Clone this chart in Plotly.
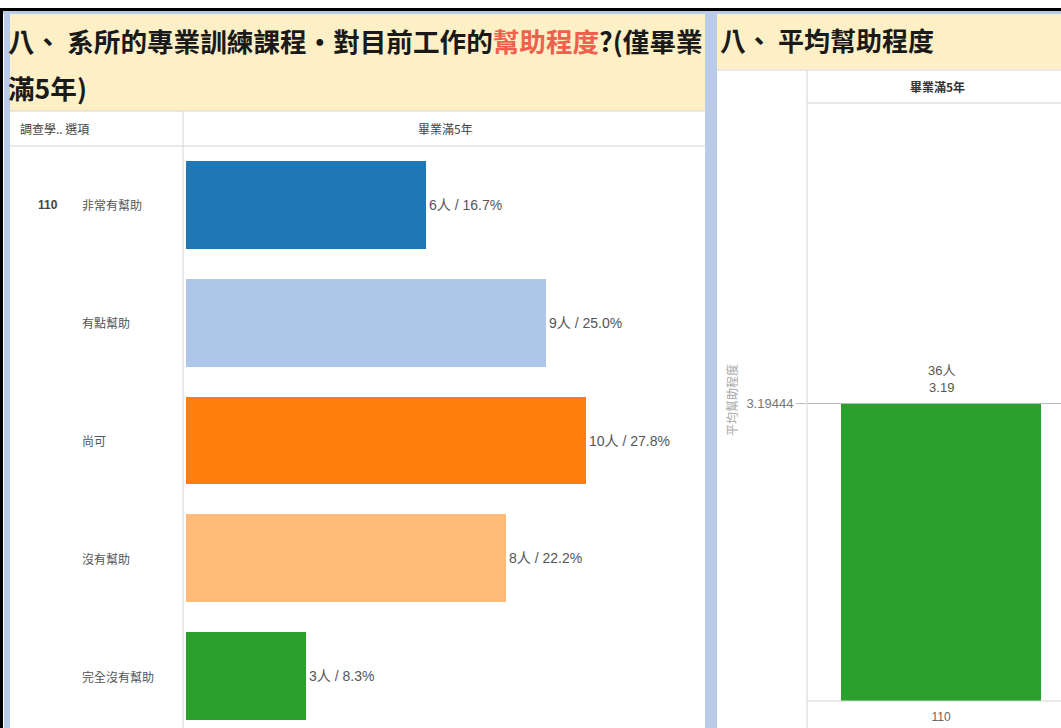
import plotly.graph_objects as go

# data
years = ["110"]
options = ["非常有幫助", "有點幫助", "尚可", "沒有幫助", "完全沒有幫助"]
counts = [6, 9, 10, 8, 3]
scores = [5, 4, 3, 2, 1]
bar_colors = ["#1F77B4", "#AEC7E8", "#FF7F0E", "#FFBB78", "#2CA02C"]

W, H = 1061, 728
FONT = "Noto Sans CJK TC"
NUM_FONT = "Liberation Sans, Noto Sans CJK TC"
CREAM = "#FDF0C6"
FRAME = "#BACBE8"
GRID = "#D4D4D4"
LABEL = "#555555"

total = sum(counts)
mean_score = sum(c * s for c, s in zip(counts, scores)) / total
bar_text = [f"{c}人 / {c / total * 100:.1f}%" for c in counts]


def px_x(x):
    return x / W


def px_y(y):
    return 1 - y / H


def rect(x0, y0, x1, y1, color):
    return dict(type="rect", xref="paper", yref="paper", layer="below",
                x0=px_x(x0), x1=px_x(x1), y0=px_y(y1), y1=px_y(y0),
                fillcolor=color, line=dict(width=0))


def line(x0, y0, x1, y1, color=GRID, width=1):
    return dict(type="line", xref="paper", yref="paper", layer="above",
                x0=px_x(x0), x1=px_x(x1), y0=px_y(y0), y1=px_y(y1),
                line=dict(color=color, width=width))


def note(x, y, text, size=12, color=LABEL, anchor="left", family=FONT, **kw):
    return dict(xref="paper", yref="paper", x=px_x(x), y=px_y(y), text=text,
                showarrow=False, xanchor=anchor, yanchor="middle",
                font=dict(family=family, size=size, color=color), **kw)


fig = go.Figure()

# left: distribution of answers
fig.add_trace(go.Bar(
    x=counts, y=options, orientation="h",
    marker=dict(color=bar_colors, line=dict(width=0)),
    width=0.746,
    text=bar_text, textposition="outside", cliponaxis=False,
    textfont=dict(family=NUM_FONT, size=14, color=LABEL),
    xaxis="x", yaxis="y", showlegend=False,
))

# right: average score
fig.add_trace(go.Bar(
    x=years, y=[mean_score],
    marker=dict(color="#2CA02C", line=dict(width=0)),
    width=1.0,
    xaxis="x2", yaxis="y2", showlegend=False,
))

shapes = [
    # panel backgrounds and frame
    rect(10, 13, 705, 111, CREAM),
    rect(717, 13, 1061, 69, CREAM),
    rect(4, 11, 10, 728, FRAME),
    rect(705, 11, 717, 728, FRAME),
    rect(0, 11, 1061, 14, FRAME),
    rect(0, 8, 1061, 11, "#000000"),
    rect(0, 8, 3, 728, "#000000"),
    # left table lines
    line(10, 111, 705, 111),
    line(10, 146, 705, 146),
    line(183, 111, 183, 728),
    # right table lines
    line(717, 70, 1061, 70),
    line(807, 103, 1061, 103),
    line(807, 70, 807, 728),
    line(807, 701, 1061, 701),
]

title_left = ("八、 系所的專業訓練課程・對目前工作的"
              "<span style='color:#F0604D'>幫助程度</span>?(僅畢業")

annotations = [
    note(6, 40, f"<b>{title_left}</b>", size=26.6, color="#1A1A1A"),
    note(6, 87, "<b>滿5年)</b>", size=26.6, color="#1A1A1A"),
    note(718, 39, "<b>八、 平均幫助程度</b>", size=26, color="#1A1A1A"),
    note(18, 128, "調查學.. 選項", color="#444444"),
    note(445, 128, "畢業滿5年", color="#444444", anchor="center"),
    note(937, 86, "<b>畢業滿5年</b>", color="#333333", anchor="center"),
    note(731, 400, "平均幫助程度", size=12, color="#AAAAAA", anchor="center",
         textangle=-90),
    dict(xref="paper", yref="y", x=px_x(36), y=options[0], text="<b>110</b>",
         showarrow=False, xanchor="left",
         font=dict(family=NUM_FONT, size=12, color="#444444")),
    # label above the average bar (category index 0 = first year)
    dict(xref="x2", yref="y2", x=0, y=mean_score,
         text=f"{total}人<br>{mean_score:.2f}", showarrow=False,
         yanchor="bottom", yshift=6,
         font=dict(family=NUM_FONT, size=13, color=LABEL)),
]
for opt in options:
    annotations.append(dict(
        xref="paper", yref="y", x=px_x(80), y=opt, text=opt, showarrow=False,
        xanchor="left", font=dict(family=FONT, size=12, color=LABEL)))

fig.update_layout(
    width=W, height=H,
    margin=dict(l=0, r=0, t=0, b=0),
    paper_bgcolor="white", plot_bgcolor="rgba(0,0,0,0)",
    font=dict(family=FONT),
    shapes=shapes, annotations=annotations,
    bargap=0,
    xaxis=dict(domain=[px_x(186), px_x(705)], range=[0, 12.975],
               showgrid=False, zeroline=False, showticklabels=False,
               showline=False, fixedrange=True),
    yaxis=dict(domain=[0, px_y(146)], range=[4.44, -0.5],
               categoryorder="array", categoryarray=options,
               showgrid=False, zeroline=False, showticklabels=False,
               showline=False, fixedrange=True),
    xaxis2=dict(domain=[px_x(807), 1], range=[-0.67, 0.6], anchor="y2",
                type="category", ticklabelstandoff=7,
                showgrid=False, zeroline=False, showline=False,
                ticks="", tickfont=dict(family=NUM_FONT, size=12, color="#666666"),
                fixedrange=True),
    yaxis2=dict(domain=[px_y(701), px_y(103)], range=[0, 6.421], anchor="x2",
                tickvals=[mean_score], ticktext=["3.19444"],
                ticks="outside", ticklen=10, tickcolor="#BBBBBB",
                showgrid=True, gridcolor="#BBBBBB", gridwidth=1,
                zeroline=False, showline=False,
                tickfont=dict(family=NUM_FONT, size=13, color="#777777"),
                fixedrange=True),
)

# the page body has an 8px default margin; drop it so the chart fills the window
fig.write_html("out.html", config={"displayModeBar": False},
               post_script="document.body.style.margin='0';"
                           "document.body.style.overflow='hidden';")
